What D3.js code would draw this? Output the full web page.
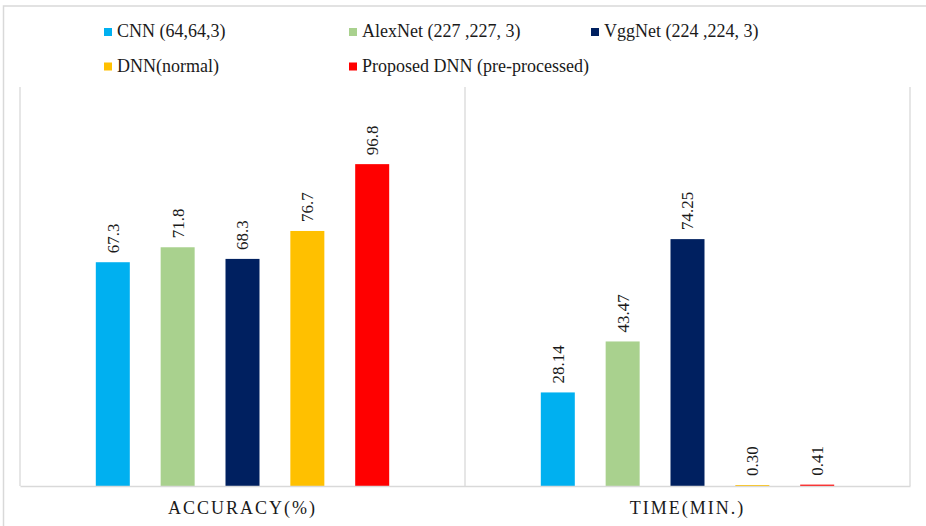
<!DOCTYPE html>
<html>
<head>
<meta charset="utf-8">
<script src="https://cdn.jsdelivr.net/npm/d3@7/dist/d3.min.js"></script>
<style>
  html, body { margin: 0; padding: 0; background: #fff; }
  svg { display: block; }
  text { font-family: "Liberation Serif", "Times New Roman", serif; fill: #1a1a1a; }
</style>
</head>
<body>
<svg id="chart" width="926" height="526"></svg>
<script>
// Metric groups along the x axis
const categories = ["ACCURACY(%)", "TIME(MIN.)"];

// Models compared in each group
const series = [
  "CNN (64,64,3)",
  "AlexNet (227 ,227, 3)",
  "VggNet (224 ,224, 3)",
  "DNN(normal)",
  "Proposed DNN (pre-processed)"
];

const seriesColors = ["#00B0F0", "#A9D18E", "#002060", "#FFC000", "#FF0000"];

// Values per model, one array per metric
const accuracyValues = [67.3, 71.8, 68.3, 76.7, 96.8];
const timeValues = [28.14, 43.47, 74.25, 0.30, 0.41];

// Decimal places used by the data labels of each metric
const labelDecimals = [1, 2];

const yDomain = [0, 120];

const values = [accuracyValues, timeValues];

const svg = d3.select("#chart");

// Outer chart frame
svg.append("rect")
  .attr("x", 3.5).attr("y", 6)
  .attr("width", 1000).attr("height", 1000)
  .attr("fill", "none")
  .attr("stroke", "#d9d9d9")
  .attr("stroke-width", 1.5);

const plot = { left: 20, right: 910, top: 87, bottom: 486 };

const x0 = d3.scaleBand()
  .domain(categories)
  .range([plot.left, plot.right])
  .padding(0);

const x1 = d3.scaleBand()
  .domain(series)
  .range([0, x0.bandwidth()])
  .paddingInner(0.4757)
  .paddingOuter(1.169);

const y = d3.scaleLinear()
  .domain(yDomain)
  .range([plot.bottom, plot.top]);

// Category divider lines
const dividers = [plot.left].concat(categories.map(c => x0(c) + x0.bandwidth()));
svg.append("g")
  .selectAll("line")
  .data(dividers)
  .join("line")
  .attr("x1", d => d).attr("x2", d => d)
  .attr("y1", plot.top).attr("y2", plot.bottom)
  .attr("stroke", "#d9d9d9")
  .attr("stroke-width", 1.3);

// Bars
const groups = svg.append("g")
  .selectAll("g")
  .data(categories)
  .join("g")
  .attr("transform", c => `translate(${x0(c)},0)`);

groups.each(function (c, ci) {
  const g = d3.select(this);
  const rows = series.map((s, si) => ({ s, si, v: values[ci][si], dec: labelDecimals[ci] }));

  g.selectAll("rect")
    .data(rows)
    .join("rect")
    .attr("x", d => x1(d.s))
    .attr("y", d => y(d.v))
    .attr("width", x1.bandwidth())
    .attr("height", d => y(0) - y(d.v))
    .attr("fill", d => seriesColors[d.si]);

  g.selectAll("text.value")
    .data(rows)
    .join("text")
    .attr("class", "value")
    .attr("transform", d => `translate(${x1(d.s) + x1.bandwidth() / 2},${y(d.v) - 9}) rotate(-90)`)
    .attr("dy", "0.35em")
    .attr("text-anchor", "start")
    .style("font-size", "17px")
    .text(d => d.v.toFixed(d.dec));
});

// Horizontal axis line and category labels
const xAxis = svg.append("g")
  .attr("transform", `translate(0,${plot.bottom})`)
  .call(d3.axisBottom(x0).tickSize(0).tickPadding(15));
xAxis.select(".domain").attr("stroke", "#d9d9d9").attr("stroke-width", 1.3);
xAxis.selectAll(".tick text")
  .style("font-family", "\"Liberation Serif\", \"Times New Roman\", serif")
  .style("font-size", "18px")
  .style("letter-spacing", "2px")
  .attr("fill", "#1a1a1a");

// Legend
const legendCols = [104, 349, 591];
const legendRows = [37, 71.5];
const legend = svg.append("g")
  .selectAll("g")
  .data(series)
  .join("g")
  .attr("transform", (d, i) => `translate(${legendCols[i % 3]},${legendRows[Math.floor(i / 3)]})`);

legend.append("rect")
  .attr("x", 0).attr("y", -9)
  .attr("width", 8).attr("height", 8)
  .attr("fill", (d, i) => seriesColors[i]);

legend.append("text")
  .attr("x", 13)
  .attr("y", 0)
  .style("font-size", "18px")
  .text(d => d);
</script>
</body>
</html>
